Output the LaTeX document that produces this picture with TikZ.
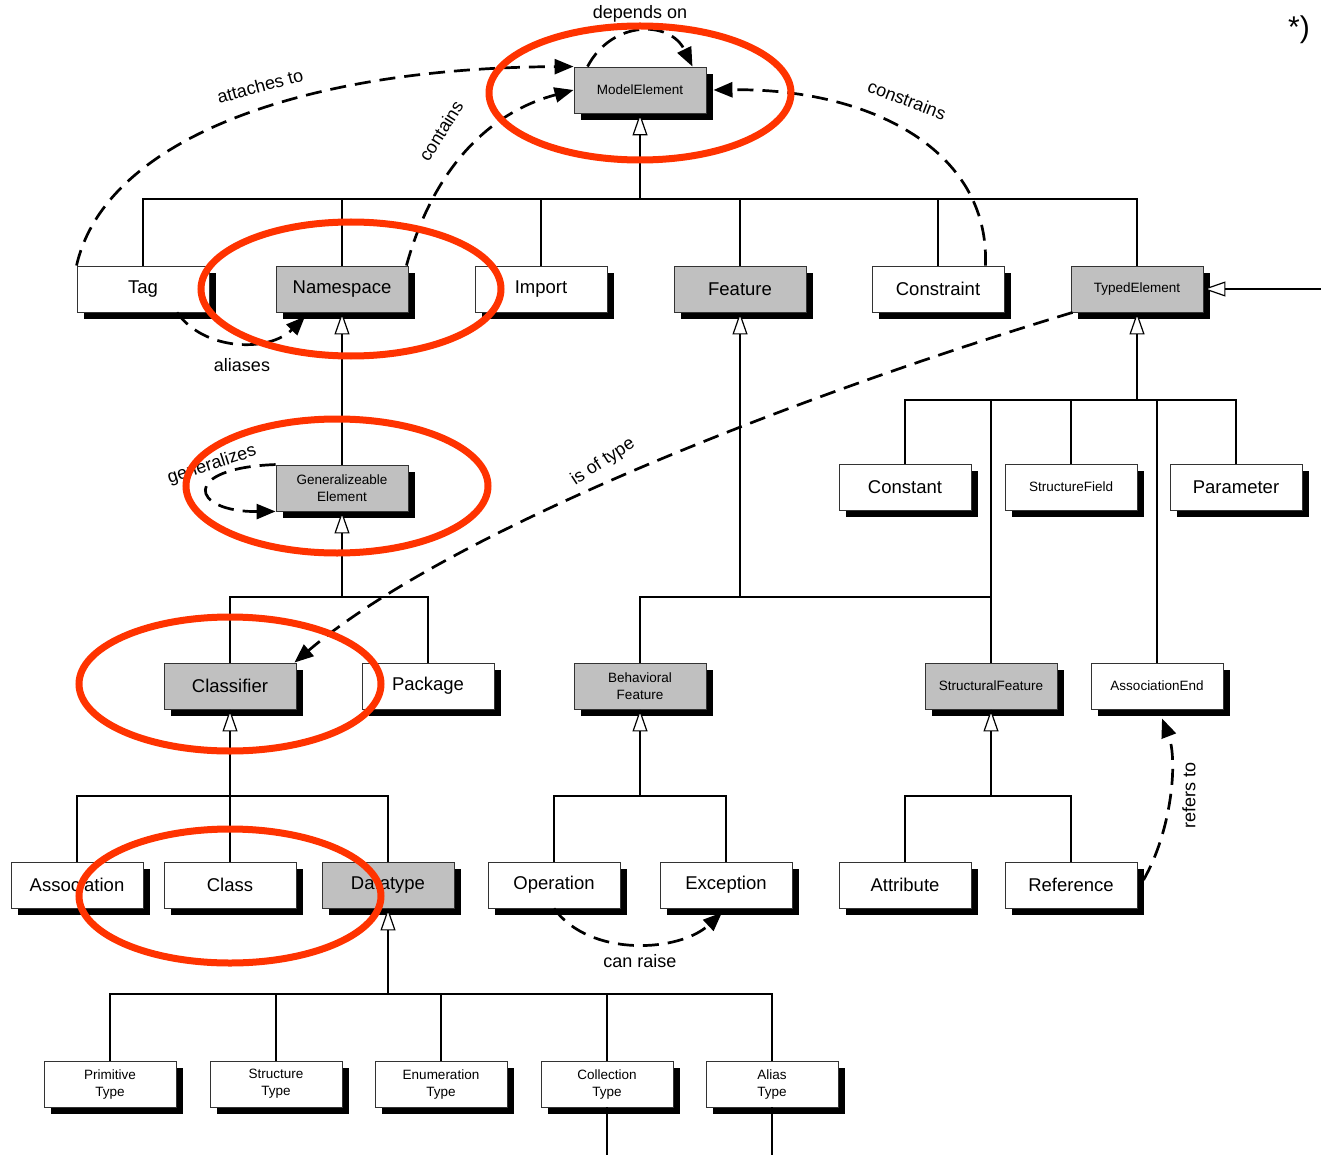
\documentclass[tikz,border=0pt]{standalone}
\usepackage{fontspec}
\setmainfont{Liberation Sans}
\usetikzlibrary{arrows.meta,shadows}
\definecolor{boxgray}{HTML}{C0C0C0}
\definecolor{hl}{HTML}{FF3300}
\begin{document}
\begin{tikzpicture}[x=1pt,y=-1pt,
 box/.style={draw=black!80, line width=0.9pt, minimum width=132pt, minimum height=46pt, inner sep=0pt, align=center,
   drop shadow={shadow xshift=7pt, shadow yshift=-7pt, opacity=1, fill=black}},
 gb/.style={box, fill=boxgray},
 wb/.style={box, fill=white},
 big/.style={font=\fontsize{18.5}{22}\selectfont},
 small/.style={font=\fontsize{13.5}{17}\selectfont},
 tree/.style={line width=1.2pt},
 inh/.style={line width=1.2pt, -{Triangle[length=22pt,width=15pt,fill=white,line width=1.2pt]}},
 dep/.style={line width=2.7pt, dash pattern=on 16pt off 9pt, -{Triangle[length=19pt,width=15pt]}},
 lab/.style={font=\fontsize{18}{20}\selectfont, inner sep=0pt},
 hilite/.style={draw=hl, line width=7pt}
]
\fill[white] (0,0) rectangle (1321,1155);
\useasboundingbox (0,0) rectangle (1321,1155);

% nodes
\node[gb,small] (me) at (640,90) {ModelElement};
\node[wb,big] (tag) at (143,289) {Tag};
\node[gb,big] (ns) at (342,289) {Namespace};
\node[wb,big] (imp) at (541,289) {Import};
\node[gb,big] (feat) at (740,289) {Feature};
\node[wb,big] (cons) at (938,289) {Constraint};
\node[gb,small] (te) at (1137,289) {TypedElement};
\node[gb,small] (ge) at (342,488) {Generalizeable\\Element};
\node[wb,big] (const) at (905,487) {Constant};
\node[wb,small] (sfield) at (1071,487) {StructureField};
\node[wb,big] (param) at (1236,487) {Parameter};
\node[gb,big] (cls) at (230,686) {Classifier};
\node[wb,big] (pkg) at (428,686) {Package};
\node[gb,small] (bf) at (640,686) {Behavioral\\Feature};
\node[gb,small] (stf) at (991,686) {StructuralFeature};
\node[wb,small] (ae) at (1157,686) {AssociationEnd};
\node[wb,big] (assoc) at (77,885) {Association};
\node[wb,big] (class) at (230,885) {Class};
\node[gb,big] (dt) at (388,885) {Datatype};
\node[wb,big] (op) at (554,885) {Operation};
\node[wb,big] (exc) at (726,885) {Exception};
\node[wb,big] (attr) at (905,885) {Attribute};
\node[wb,big] (ref) at (1071,885) {Reference};
\node[wb,small] (pt) at (110,1084) {Primitive\\Type};
\node[wb,small] (st) at (276,1084) {Structure\\Type};
\node[wb,small] (et) at (441,1084) {Enumeration\\Type};
\node[wb,small] (ct) at (607,1084) {Collection\\Type};
\node[wb,small] (at) at (772,1084) {Alias\\Type};

% tree connectors
\coordinate (jME) at (640,199);
\foreach \n in {tag,ns,imp,feat,cons,te} \draw[tree] (\n.north) |- (jME);
\draw[inh] (jME) -- (me.south);

\coordinate (jTE) at (1137,400);
\foreach \n in {const,sfield,param,stf,ae} \draw[tree] (\n.north) |- (jTE);
\draw[inh] (jTE) -- (te.south);
\coordinate (teR) at (1321,289);
\draw[inh] (teR) -- (te.east);

\coordinate (jF) at (740,597);
\foreach \n in {bf,stf} \draw[tree] (\n.north) |- (jF);
\draw[inh] (jF) -- (feat.south);

\draw[inh] (ge.north) -- (ns.south);

\coordinate (jGE) at (342,597);
\foreach \n in {cls,pkg} \draw[tree] (\n.north) |- (jGE);
\draw[inh] (jGE) -- (ge.south);

\coordinate (jC) at (230,796);
\foreach \n in {assoc,class,dt} \draw[tree] (\n.north) |- (jC);
\draw[inh] (jC) -- (cls.south);

\coordinate (jBF) at (640,796);
\foreach \n in {op,exc} \draw[tree] (\n.north) |- (jBF);
\draw[inh] (jBF) -- (bf.south);

\coordinate (jSF) at (991,796);
\foreach \n in {attr,ref} \draw[tree] (\n.north) |- (jSF);
\draw[inh] (jSF) -- (stf.south);

\coordinate (jDT) at (388,994);
\foreach \n in {pt,st,et,ct,at} \draw[tree] (\n.north) |- (jDT);
\draw[inh] (jDT) -- (dt.south);

\coordinate (ctD) at (607,1155);
\coordinate (atD) at (772,1155);
\draw[tree] (ct.south) -- (ctD);
\draw[tree] (at.south) -- (atD);

% dashed associations
\draw[dep] ([xshift=14pt]me.north west) .. controls (612,20) and (670,20) .. ([xshift=-14pt]me.north east);
\draw[dep] (tag.north west) .. controls (105,140) and (300,68) .. (me.north west);
\draw[dep] ([xshift=-2pt]ns.north east) .. controls (430,180) and (480,115) .. (me.west);
\draw[dep] ([xshift=-19pt]cons.north east) .. controls (990,150) and (870,88) .. ([xshift=7pt]me.east);
\draw[dep] ([xshift=34pt]tag.south) .. controls (205,352) and (270,352) .. ([xshift=-37pt,yshift=-4pt]ns.south);
\draw[dep] (ge.north west) .. controls (180,468) and (190,512) .. (ge.south west);
\draw[dep] ([xshift=2pt]te.south west) .. controls (800,395) and (450,530) .. ([xshift=-2pt]cls.north east);
\draw[dep] (op.south) .. controls (590,958) and (680,952) .. ([xshift=-4pt,yshift=-4pt]exc.south);
\draw[dep] ([xshift=6pt,yshift=5pt]ref.east) .. controls (1172,830) and (1178,760) .. ([xshift=5pt,yshift=-9pt]ae.south);

% labels
\node[lab] (lDep) at (640,14) {depends on};
\node[lab, rotate=15] (lAtt) at (260,86) {attaches to};
\node[lab, rotate=58] (lCon) at (441,131) {contains};
\node[lab, rotate=-21] (lCst) at (907,100) {constrains};
\node[lab] (lAli) at (242,365) {aliases};
\node[lab, rotate=18] (lGen) at (212,465) {generalizes};
\node[lab, rotate=33] (lTyp) at (603,462) {is of type};
\node[lab] (lRai) at (640,961) {can raise};
\node[lab, rotate=90] (lRef) at (1189,795) {refers to};
\node[font=\fontsize{30}{30}\selectfont, inner sep=0pt] (star) at (1299,30) {*)};

% highlight ellipses
\draw[hilite] (640,93) ellipse [x radius=151, y radius=67];
\draw[hilite] (351,289) ellipse [x radius=150, y radius=67];
\draw[hilite] (337,486) ellipse [x radius=151, y radius=67];
\draw[hilite] (230,684) ellipse [x radius=151, y radius=67];
\draw[hilite] (230,896) ellipse [x radius=151, y radius=67];
\end{tikzpicture}
\end{document}
